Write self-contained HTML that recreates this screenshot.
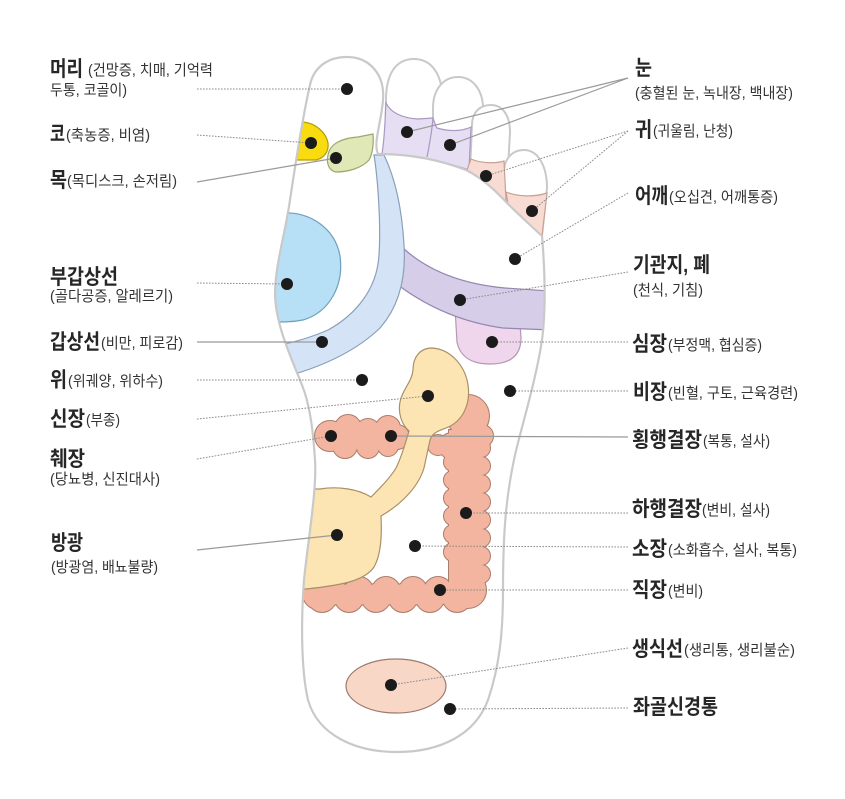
<!DOCTYPE html>
<html><head><meta charset="utf-8">
<style>
html,body{margin:0;padding:0;background:#fff;}
svg{display:block;}
.b{font-family:"Liberation Sans","Noto Sans CJK KR",sans-serif;font-weight:700;font-size:21px;fill:#262626;}
.s{font-family:"Liberation Sans","Noto Sans CJK KR",sans-serif;font-weight:400;font-size:15px;fill:#333;}
.dl{stroke:#8a8a8a;stroke-width:1;stroke-dasharray:1.6 1.4;fill:none;}
.sl{stroke:#9a9a9a;stroke-width:1.2;fill:none;}
</style></head>
<body>
<svg width="845" height="799" viewBox="0 0 845 799" xmlns="http://www.w3.org/2000/svg">
<defs>
  <path id="body" d="M 378,154 C 373,142 381,125 383,100 C 385,75 370,57 347,57 C 325,57 313,70 310,85 C 303,115 296,160 290,200 C 285,235 275,265 275,295 C 276,325 290,355 302,385 C 310,405 313,430 315,460 C 317,490 308,540 304,580 C 301,620 301,670 308,700 C 318,735 355,752 397,752 C 440,752 475,735 488,700 C 500,665 503,630 503,590 C 503,540 505,500 515,455 C 522,425 536,380 542,340 C 546,310 545,270 542,236 C 530,225 517,213 508,204 C 495,190 482,178 466,170 C 440,160 410,154 378,154 Z"/>
  <clipPath id="clip"><use href="#body"/></clipPath>
  <g id="colon">
    <circle cx="468" cy="416" r="21"/><circle cx="482" cy="436" r="11"/><circle cx="452" cy="446" r="13"/><circle cx="438" cy="445" r="10"/>
    <rect x="449" y="430" width="33" height="165"/>
    <circle cx="453" cy="462" r="9"/><circle cx="453" cy="480" r="9"/><circle cx="453" cy="498" r="9"/><circle cx="453" cy="516" r="9"/><circle cx="453" cy="534" r="9"/><circle cx="453" cy="552" r="9"/>
    <circle cx="481" cy="448" r="9"/><circle cx="481" cy="466" r="9"/><circle cx="481" cy="484" r="9"/><circle cx="481" cy="502" r="9"/><circle cx="481" cy="520" r="9"/><circle cx="481" cy="538" r="9"/><circle cx="481" cy="556" r="9"/><circle cx="481" cy="574" r="9"/>
    <rect x="318" y="585" width="160" height="18"/>
    <circle cx="332" cy="591" r="14"/><circle cx="359" cy="591" r="14"/><circle cx="386" cy="591" r="14"/><circle cx="413" cy="591" r="14"/><circle cx="438" cy="591" r="14"/>
    <circle cx="322" cy="598" r="14"/><circle cx="349" cy="598" r="14"/><circle cx="376" cy="598" r="14"/><circle cx="403" cy="598" r="14"/><circle cx="430" cy="598" r="14"/><circle cx="457" cy="598" r="14"/>
    <circle cx="318" cy="594" r="15"/><circle cx="468" cy="590" r="18"/>
    <!-- pancreas -->
    <circle cx="330" cy="436" r="15"/><circle cx="348" cy="428" r="13"/><circle cx="368" cy="431" r="12"/><circle cx="388" cy="428" r="12"/><circle cx="397" cy="437" r="12"/><circle cx="345" cy="446" r="12"/><circle cx="368" cy="447" r="11"/><circle cx="388" cy="446" r="10"/>
    <rect x="328" y="425" width="68" height="24"/>
  </g>
</defs>

<rect width="845" height="799" fill="#fff"/>

<!-- toes -->
<g fill="#fff" stroke="#c9c9c9" stroke-width="2">
  <path d="M 385,150 L 386,100 C 386,75 395,59 414,59 C 433,59 443,77 442,100 L 440,150 Z"/>
  <path d="M 433,158 L 433,108 C 433,90 443,77 458,77 C 474,77 484,92 483,112 L 480,168 Z"/>
  <path d="M 470,172 L 472,125 C 472,112 480,105 491,105 C 503,105 510,116 510,132 L 506,204 Z"/>
  <path d="M 505,204 L 504,172 C 504,159 512,150 524,150 C 538,150 547,166 547,188 L 542,236 Z"/>
</g>
<!-- eye / ear bands -->
<path d="M 386,103 C 391,113 402,118 418,119 L 433,118 C 435,124 436,127 437,128 C 450,132 463,131 471,127 L 469,170 C 440,160 412,155 382,154 C 385,135 385,118 386,103 Z" fill="#e6def2" stroke="#a898c2" stroke-width="1.2"/>
<path d="M 433,118 C 432,130 430,142 427,157" fill="none" stroke="#a898c2" stroke-width="1.2"/>
<path d="M 471,159 C 480,163 495,164 504,161 L 506,200 L 508,204 C 495,190 482,178 467,170 Z" fill="#f8dcd4" stroke="#c9a093" stroke-width="1.2"/>
<path d="M 506,192 C 518,197 535,197 547,193 L 542,236 C 530,225 518,213 508,204 Z" fill="#f8dcd4" stroke="#c9a093" stroke-width="1.2"/>

<!-- body -->
<use href="#body" fill="#fff"/>

<g clip-path="url(#clip)">
  <!-- nose -->
  <path d="M 303,122 C 315,123 326,132 328,143 C 329,152 324,158 316,160 L 296,160 L 298,122 Z" fill="#f8dc10" stroke="#b59d00" stroke-width="1.2"/>
  <!-- neck -->
  <path d="M 328,155 C 330,143 343,138 358,137 L 373,134 C 374,145 372,155 369,160 C 362,168 348,172 336,172 C 329,171 326,163 328,155 Z" fill="#dfe8b6" stroke="#9aa86c" stroke-width="1.2"/>
  <!-- parathyroid -->
  <path d="M 284,213 C 310,212 335,228 340,256 C 344,285 330,312 303,320 C 293,322 285,322 270,322 L 270,213 Z" fill="#b7dff5" stroke="#6f9fbd" stroke-width="1.2"/>
  <!-- heart -->
  <path d="M 455,308 L 457,342 C 460,357 472,364 490,364 C 510,364 521,356 521,338 L 519,310 Z" fill="#efd6ed" stroke="#b497b3" stroke-width="1.2"/>
  <!-- bronchi / lung band -->
  <path d="M 403,248 Q 440,282 505,288 L 550,291 L 550,330 L 503,328 Q 445,320 398,285 Z" fill="#d6cde8" stroke="#9486b0" stroke-width="1.2"/>
  <!-- thyroid band -->
  <path d="M 374,155 C 378,180 381,225 379,255 C 377,290 355,315 328,330 C 310,338 295,342 280,345 L 288,376 C 320,367 355,352 380,328 C 400,305 406,275 404,245 C 402,210 396,180 384,155 Z" fill="#d5e3f6" stroke="#8a9fba" stroke-width="1.2"/>
  <!-- colon + pancreas -->
  <use href="#colon" fill="#f4b5a0" stroke="#a97d6c" stroke-width="2"/>
  <use href="#colon" fill="#f4b5a0" stroke="none"/>
  <!-- kidney ureter bladder -->
  <path d="M 320,489 C 338,486 358,489 371,497 C 380,488 390,478 396,468 C 401,458 405,445 409,431 C 401,424 398,412 400,402 C 402,390 412,382 413,370 C 413,357 420,348 432,348 C 450,349 465,365 468,385 C 471,405 462,422 446,428 C 438,431 432,433 430,440 L 424,468 C 418,488 400,505 381,516 C 382,535 381,555 374,567 C 365,580 345,585 306,589 L 298,589 L 298,489 Z" fill="#fde4b3" stroke="#a89068" stroke-width="1.2"/>
  <!-- gland -->
  <ellipse cx="396" cy="686" rx="50" ry="27" fill="#f9d7c7" stroke="#9c7b6e" stroke-width="1.2"/>
</g>
<use href="#body" fill="none" stroke="#c9c9c9" stroke-width="2.2"/>

<!-- connector lines -->
<g>
  <line class="dl" x1="197" y1="89" x2="347" y2="89"/>
  <line class="dl" x1="197" y1="135" x2="311" y2="143"/>
  <line class="sl" x1="197" y1="182" x2="336" y2="158"/>
  <line class="dl" x1="197" y1="283" x2="287" y2="284"/>
  <line class="sl" x1="197" y1="342" x2="322" y2="342"/>
  <line class="dl" x1="197" y1="380" x2="362" y2="380"/>
  <line class="dl" x1="197" y1="419" x2="428" y2="396"/>
  <line class="dl" x1="197" y1="459" x2="331" y2="436"/>
  <line class="sl" x1="197" y1="550" x2="337" y2="535"/>

  <line class="sl" x1="628" y1="78" x2="407" y2="132"/>
  <line class="sl" x1="628" y1="78" x2="450" y2="145"/>
  <line class="dl" x1="628" y1="131" x2="486" y2="176"/>
  <line class="dl" x1="628" y1="131" x2="532" y2="211"/>
  <line class="dl" x1="628" y1="193" x2="515" y2="259"/>
  <line class="dl" x1="628" y1="272" x2="460" y2="300"/>
  <line class="dl" x1="628" y1="342" x2="492" y2="342"/>
  <line class="dl" x1="628" y1="391" x2="510" y2="391"/>
  <line class="sl" x1="628" y1="437" x2="391" y2="436"/>
  <line class="dl" x1="628" y1="513" x2="466" y2="513"/>
  <line class="dl" x1="628" y1="547" x2="415" y2="546"/>
  <line class="dl" x1="628" y1="590" x2="440" y2="590"/>
  <line class="dl" x1="628" y1="648" x2="391" y2="685"/>
  <line class="dl" x1="628" y1="708" x2="450" y2="709"/>
</g>

<!-- dots -->
<g fill="#1b1b1b">
  <circle cx="347" cy="89" r="6"/><circle cx="311" cy="143" r="6"/><circle cx="336" cy="158" r="6"/>
  <circle cx="407" cy="132" r="6"/><circle cx="450" cy="145" r="6"/><circle cx="486" cy="176" r="6"/>
  <circle cx="532" cy="211" r="6"/><circle cx="515" cy="259" r="6"/><circle cx="287" cy="284" r="6"/>
  <circle cx="460" cy="300" r="6"/><circle cx="322" cy="342" r="6"/><circle cx="492" cy="342" r="6"/>
  <circle cx="362" cy="380" r="6"/><circle cx="510" cy="391" r="6"/><circle cx="428" cy="396" r="6"/>
  <circle cx="331" cy="436" r="6"/><circle cx="391" cy="436" r="6"/><circle cx="466" cy="513" r="6"/>
  <circle cx="337" cy="535" r="6"/><circle cx="415" cy="546" r="6"/><circle cx="440" cy="590" r="6"/>
  <circle cx="391" cy="685" r="6"/><circle cx="450" cy="709" r="6"/>
</g>

<!-- left labels -->
<text class="b" x="50" y="76" textLength="33" lengthAdjust="spacingAndGlyphs">머리</text>
<text class="s" x="88" y="75" textLength="125" lengthAdjust="spacingAndGlyphs">(건망증, 치매, 기억력</text>
<text class="s" x="50" y="95" textLength="77" lengthAdjust="spacingAndGlyphs">두통, 코골이)</text>

<text class="b" x="50" y="141" textLength="15" lengthAdjust="spacingAndGlyphs">코</text>
<text class="s" x="66" y="140" textLength="84" lengthAdjust="spacingAndGlyphs">(축농증, 비염)</text>

<text class="b" x="50" y="187" textLength="17" lengthAdjust="spacingAndGlyphs">목</text>
<text class="s" x="67" y="186" textLength="110" lengthAdjust="spacingAndGlyphs">(목디스크, 손저림)</text>

<text class="b" x="50" y="284" textLength="68" lengthAdjust="spacingAndGlyphs">부갑상선</text>
<text class="s" x="50" y="301" textLength="123" lengthAdjust="spacingAndGlyphs">(골다공증, 알레르기)</text>

<text class="b" x="50" y="349" textLength="50" lengthAdjust="spacingAndGlyphs">갑상선</text>
<text class="s" x="101" y="348" textLength="82" lengthAdjust="spacingAndGlyphs">(비만, 피로감)</text>

<text class="b" x="50" y="387" textLength="17" lengthAdjust="spacingAndGlyphs">위</text>
<text class="s" x="68" y="386" textLength="95" lengthAdjust="spacingAndGlyphs">(위궤양, 위하수)</text>

<text class="b" x="50" y="426" textLength="35" lengthAdjust="spacingAndGlyphs">신장</text>
<text class="s" x="86" y="425" textLength="34" lengthAdjust="spacingAndGlyphs">(부종)</text>

<text class="b" x="50" y="466" textLength="35" lengthAdjust="spacingAndGlyphs">췌장</text>
<text class="s" x="50" y="484" textLength="110" lengthAdjust="spacingAndGlyphs">(당뇨병, 신진대사)</text>

<text class="b" x="51" y="550" textLength="32" lengthAdjust="spacingAndGlyphs">방광</text>
<text class="s" x="51" y="572" textLength="107" lengthAdjust="spacingAndGlyphs">(방광염, 배뇨불량)</text>

<!-- right labels -->
<text class="b" x="635" y="75" textLength="17" lengthAdjust="spacingAndGlyphs">눈</text>
<text class="s" x="635" y="98" textLength="158" lengthAdjust="spacingAndGlyphs">(충혈된 눈, 녹내장, 백내장)</text>

<text class="b" x="635" y="137" textLength="17" lengthAdjust="spacingAndGlyphs">귀</text>
<text class="s" x="653" y="136" textLength="80" lengthAdjust="spacingAndGlyphs">(귀울림, 난청)</text>

<text class="b" x="635" y="203" textLength="33" lengthAdjust="spacingAndGlyphs">어깨</text>
<text class="s" x="669" y="202" textLength="109" lengthAdjust="spacingAndGlyphs">(오십견, 어깨통증)</text>

<text class="b" x="633" y="272" textLength="77" lengthAdjust="spacingAndGlyphs">기관지, 폐</text>
<text class="s" x="633" y="295" textLength="70" lengthAdjust="spacingAndGlyphs">(천식, 기침)</text>

<text class="b" x="632" y="351" textLength="35" lengthAdjust="spacingAndGlyphs">심장</text>
<text class="s" x="668" y="350" textLength="94" lengthAdjust="spacingAndGlyphs">(부정맥, 협심증)</text>

<text class="b" x="633" y="399" textLength="34" lengthAdjust="spacingAndGlyphs">비장</text>
<text class="s" x="668" y="398" textLength="130" lengthAdjust="spacingAndGlyphs">(빈혈, 구토, 근육경련)</text>

<text class="b" x="632" y="447" textLength="70" lengthAdjust="spacingAndGlyphs">횡행결장</text>
<text class="s" x="703" y="446" textLength="67" lengthAdjust="spacingAndGlyphs">(복통, 설사)</text>

<text class="b" x="632" y="516" textLength="70" lengthAdjust="spacingAndGlyphs">하행결장</text>
<text class="s" x="702" y="515" textLength="68" lengthAdjust="spacingAndGlyphs">(변비, 설사)</text>

<text class="b" x="632" y="556" textLength="35" lengthAdjust="spacingAndGlyphs">소장</text>
<text class="s" x="668" y="555" textLength="129" lengthAdjust="spacingAndGlyphs">(소화흡수, 설사, 복통)</text>

<text class="b" x="632" y="597" textLength="35" lengthAdjust="spacingAndGlyphs">직장</text>
<text class="s" x="668" y="596" textLength="35" lengthAdjust="spacingAndGlyphs">(변비)</text>

<text class="b" x="632" y="656" textLength="51" lengthAdjust="spacingAndGlyphs">생식선</text>
<text class="s" x="684" y="655" textLength="111" lengthAdjust="spacingAndGlyphs">(생리통, 생리불순)</text>

<text class="b" x="633" y="714" textLength="85" lengthAdjust="spacingAndGlyphs">좌골신경통</text>
</svg>
</body></html>
